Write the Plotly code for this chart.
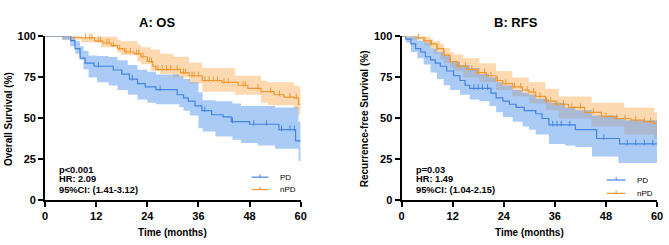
import plotly.graph_objects as go

# ---------------- data ----------------
# A: OS, PD
os_pd_t  = [0, 6, 7, 8.2, 9.4, 11.5, 16, 18, 19.8, 21.7, 23.5, 26, 31, 32.5, 33.6, 35.2, 36.8, 39.1, 41.8, 43.7, 48, 54.9, 58.8, 60]
os_pd_s  = [100, 97.5, 92.5, 86.7, 83.7, 81.8, 79.5, 77, 74, 71.2, 69.2, 67.5, 64.4, 62.5, 60.5, 57.6, 54.7, 52.2, 50.9, 48, 46.4, 43.1, 36.3, 36.3]
os_pd_ci_t  = [0, 4, 5.9, 7.1, 8.2, 9, 10.2, 12.2, 14.9, 17, 19.4, 21.7, 24, 26, 31.5, 32.5, 34, 36, 37, 40, 44, 46, 50, 54, 59.5, 60]
os_pd_lo    = [100, 98, 94, 89.5, 85.7, 80, 75, 72, 70, 67.3, 64.4, 61.5, 59.5, 58.6, 57, 54.7, 51.8, 44, 42, 39, 37, 35, 33.5, 31.5, 24, 24]
os_pd_hi    = [100, 100, 100, 97, 94, 91.3, 88.4, 88, 87.4, 85.5, 82.6, 79.7, 78.5, 76.8, 75.5, 74, 72, 66, 61, 60.5, 59, 57.6, 57.6, 56.7, 48, 48]
os_pd_cens  = [12.5, 20.5, 27, 37.5, 44, 49, 52, 55.5, 57.5, 58.5]

# A: OS, nPD
os_npd_t = [0, 6.2, 8.5, 11.6, 13.5, 15.5, 17, 18.6, 20.9, 22.5, 24, 25.3, 26, 31.8, 33.8, 36.9, 41.5, 45.3, 47.6, 50.7, 53.8, 56.1, 58.4, 59.5, 60]
os_npd_s = [100, 99.6, 99.2, 97.3, 96, 94.4, 92.5, 90.5, 89.5, 87.6, 84.7, 81.8, 79.9, 77.9, 76, 73.1, 72, 70.2, 68.3, 66.3, 64.4, 63, 62.5, 58.6, 58.6]
os_npd_ci_t = [0, 4, 8.5, 13.1, 17, 17.8, 21.7, 22.5, 24.8, 27, 30, 33.8, 36.9, 44.6, 50.7, 52.3, 58.4, 59.5, 60]
os_npd_lo   = [100, 98, 96.3, 93.4, 90, 88.6, 84.7, 83, 78.9, 77, 75, 71.2, 66.3, 64.4, 59.5, 58, 55.7, 52, 52]
os_npd_hi   = [100, 100, 100, 100, 98, 97, 95, 93.4, 92, 89.5, 87.6, 84, 80.8, 76, 73, 72, 70, 69.2, 69.2]
os_npd_cens = [4.5, 5.5, 6.5, 7.5, 9.5, 10.5, 11, 12.5, 13, 14.5, 15, 16, 17.5, 19, 20, 21.5, 22, 23, 24.5, 25, 26.5, 27.5, 28.5, 29.5, 31, 32.5, 33, 34.5, 35, 36, 37.5, 38.5, 39.5, 40.5, 42, 43, 46.5, 47, 50, 53, 55, 57.5, 59]

# B: RFS, PD
rfs_pd_t = [0, 1, 2.2, 3.3, 4.5, 5.6, 6.8, 7.9, 9.1, 10.6, 12.2, 13.7, 14.9, 16, 21, 22.2, 23.8, 25.3, 26.9, 28.8, 31.5, 33, 34.6, 40.8, 45.8, 51.2, 60]
rfs_pd_s = [100, 98.3, 95.4, 92.5, 90.5, 87.6, 85.7, 83.7, 81.8, 78.9, 76, 73.1, 70.2, 68.3, 65.4, 62.5, 60.5, 58.6, 56.7, 54.7, 52.8, 49.9, 46, 43.1, 37.7, 34.4, 34.4]
rfs_pd_ci_t = [0, 1, 2.2, 3.7, 5.2, 6.8, 8.3, 9.9, 11.4, 13.7, 16, 18.3, 20.6, 22.2, 23.8, 26.1, 28.4, 29.9, 31.5, 34.6, 38.4, 40.8, 44.7, 50.9, 52.4, 60]
rfs_pd_lo   = [100, 96.3, 90.5, 86.7, 82.8, 78, 74, 70.2, 67.3, 64.4, 61.5, 60.5, 57.6, 53.7, 50.9, 48, 45.1, 43.1, 40.2, 34.4, 33.5, 32.5, 26.7, 22.8, 22.8, 22.8]
rfs_pd_hi   = [100, 100, 100, 97.5, 96.3, 92.5, 90.5, 88.6, 84.7, 82.5, 80.8, 77, 75, 72, 70, 67.3, 65.5, 64.4, 62, 59.5, 56.7, 55, 51.8, 50, 48.9, 47]
rfs_pd_cens = [17, 18, 19, 20.2, 35.5, 36.5, 37.5, 39.5, 47.5, 53, 55, 57, 59]

# B: RFS, nPD
rfs_npd_t = [0, 3.7, 5.2, 6.8, 8.3, 9.9, 11.4, 13, 15.3, 17.6, 19.9, 22.2, 23.8, 26.1, 28.4, 29.9, 31.5, 33.8, 36.1, 39.2, 43, 46.9, 50, 53.9, 57, 59.3, 60]
rfs_npd_s = [100, 99.2, 97.3, 95.4, 92.5, 88.6, 84.7, 81.8, 79.9, 77.9, 76, 73.1, 71.2, 69.2, 67.3, 66, 63.4, 60.5, 58.6, 56.7, 53.7, 51.2, 49.9, 48.9, 48, 47, 46.5]
rfs_npd_ci_t = [0, 2.2, 5.2, 6.8, 7.5, 9.1, 9.9, 11.4, 12.2, 14.5, 18.3, 22.2, 26, 29.9, 33.8, 36.9, 44.6, 52.3, 59.3, 60]
rfs_npd_lo   = [100, 98, 94.4, 92, 89.5, 86, 83.7, 81, 78.9, 75, 72, 67.3, 63.4, 59, 55, 49.9, 45, 40.2, 37.3, 37.3]
rfs_npd_hi   = [100, 100, 100, 98.3, 97, 95.4, 93, 90.5, 89, 86.7, 83.7, 78.9, 75, 72, 68, 63.4, 59.5, 56.7, 53.7, 53.7]
rfs_npd_cens = [2.5, 4, 5.5, 7, 8.5, 10, 11.5, 13.5, 15, 16.5, 18, 19.5, 21, 22.5, 24.5, 26.5, 28, 29.5, 31, 32.5, 34, 35, 36.5, 38, 40, 42, 45, 48, 50.5, 52.5, 55, 57, 58.5]

panels = [
    dict(title="A: OS", ytitle="Overall Survival (%)",
         pd=(os_pd_t, os_pd_s, os_pd_ci_t, os_pd_lo, os_pd_hi, os_pd_cens),
         npd=(os_npd_t, os_npd_s, os_npd_ci_t, os_npd_lo, os_npd_hi, os_npd_cens),
         stats=["p<0.001", "HR: 2.09", "95%CI: (1.41-3.12)"]),
    dict(title="B: RFS", ytitle="Recurrence-free Survival (%)",
         pd=(rfs_pd_t, rfs_pd_s, rfs_pd_ci_t, rfs_pd_lo, rfs_pd_hi, rfs_pd_cens),
         npd=(rfs_npd_t, rfs_npd_s, rfs_npd_ci_t, rfs_npd_lo, rfs_npd_hi, rfs_npd_cens),
         stats=["p=0.03", "HR: 1.49", "95%CI: (1.04-2.15)"]),
]
group_labels = ["PD", "nPD"]
x_ticks = [0, 12, 24, 36, 48, 60]
y_ticks = [0, 25, 50, 75, 100]

# ---------------- style ----------------
W, H = 669, 245
BLUE, BLUE_BAND = "#4583e0", "rgba(88,152,240,0.5)"
ORANGE, ORANGE_BAND = "#f0982f", "rgba(250,180,100,0.5)"
FONT = "Liberation Sans, Arial, sans-serif"

x_domains = [[42.7 / W, 301.7 / W], [404 / W, 663 / W]]
y_domain = [1 - 204.3 / H, 1 - 32 / H]


def step_at(ts, ss, t):
    v = ss[0]
    for ti, si in zip(ts, ss):
        if ti <= t:
            v = si
    return v


fig = go.Figure()

for i, p in enumerate(panels):
    xa = "x" if i == 0 else "x2"
    ya = "y" if i == 0 else "y2"
    # bands: orange first, blue on top
    for key, band in (("npd", ORANGE_BAND), ("pd", BLUE_BAND)):
        t, s, ct, lo, hi, cens = p[key]
        fig.add_trace(go.Scatter(x=ct, y=hi, mode="lines", line=dict(width=0, shape="hv"),
                                 hoverinfo="skip", showlegend=False, xaxis=xa, yaxis=ya))
        fig.add_trace(go.Scatter(x=ct, y=lo, mode="lines", line=dict(width=0, shape="hv"),
                                 fill="tonexty", fillcolor=band, hoverinfo="skip",
                                 showlegend=False, xaxis=xa, yaxis=ya))
    for key, col in (("npd", ORANGE), ("pd", BLUE)):
        t, s, ct, lo, hi, cens = p[key]
        fig.add_trace(go.Scatter(x=t, y=s, mode="lines", line=dict(color=col, width=1.2, shape="hv"),
                                 showlegend=False, xaxis=xa, yaxis=ya, cliponaxis=False))
        fig.add_trace(go.Scatter(x=cens, y=[step_at(t, s, c) + 0.8 for c in cens], mode="markers",
                                 marker=dict(symbol="line-ns", size=4, line=dict(color=col, width=1)),
                                 showlegend=False, xaxis=xa, yaxis=ya, cliponaxis=False))

axis_common = dict(showgrid=False, zeroline=False, showline=True, linecolor="black", linewidth=2,
                   ticks="outside", ticklen=5, tickwidth=2, tickcolor="black",
                   tickfont=dict(family=FONT, size=11, color="black", weight="bold"))

layout = dict(width=W, height=H, margin=dict(l=0, r=0, t=0, b=0),
              paper_bgcolor="white", plot_bgcolor="white", showlegend=False)
for i in range(2):
    sfx = "" if i == 0 else "2"
    layout["xaxis" + sfx] = dict(axis_common, domain=x_domains[i], range=[0, 60],
                                 tickvals=x_ticks, anchor="y" + sfx)
    layout["yaxis" + sfx] = dict(axis_common, domain=y_domain, range=[0, 100],
                                 tickvals=y_ticks, anchor="x" + sfx)
fig.update_layout(**layout)


def note(text, xpx, ypx, size, bold=True, xanchor="center", angle=0):
    return dict(text=text, x=xpx / W, y=1 - ypx / H, xref="paper", yref="paper",
                xanchor=xanchor, yanchor="middle", textangle=angle, showarrow=False,
                font=dict(family=FONT, size=size, color="black", weight="bold" if bold else "normal"))


ann = []
shapes = []
title_x = [156, 520]
ytitle_x = [5, 366]
stats_x = [55, 417]
stats_y = [172, 182, 193]
leg = [dict(x0=252, x1=269, tx=279, ys=[180, 193]), dict(x0=612, x1=631, tx=641, ys=[183, 197])]
for i, p in enumerate(panels):
    cx_px = (x_domains[i][0] + x_domains[i][1]) / 2 * W
    ann.append(note(p["title"], title_x[i], 17, 13))
    ann.append(note("Time (months)", cx_px, 238, 10))
    ann.append(note(p["ytitle"], ytitle_x[i], 119, 10, angle=-90))
    for j, line in enumerate(p["stats"]):
        ann.append(note(line, stats_x[i], stats_y[j], 9.3, xanchor="left"))
    lg = leg[i]
    for j, (lab, col) in enumerate(zip(group_labels, (BLUE, ORANGE))):
        yy = 1 - lg["ys"][j] / H
        shapes.append(dict(type="line", xref="paper", yref="paper", x0=lg["x0"] / W, x1=lg["x1"] / W,
                           y0=yy, y1=yy, line=dict(color=col, width=1.2)))
        xm = (lg["x0"] + lg["x1"]) / 2 / W
        shapes.append(dict(type="line", xref="paper", yref="paper", x0=xm, x1=xm,
                           y0=yy, y1=yy + 3 / H, line=dict(color=col, width=1)))
        ann.append(note(lab, lg["tx"], lg["ys"][j], 8, bold=False, xanchor="left"))
fig.update_layout(annotations=ann, shapes=shapes)

fig.write_html("out.html", config={"displayModeBar": False},
               post_script="document.body.style.margin='0px';")
